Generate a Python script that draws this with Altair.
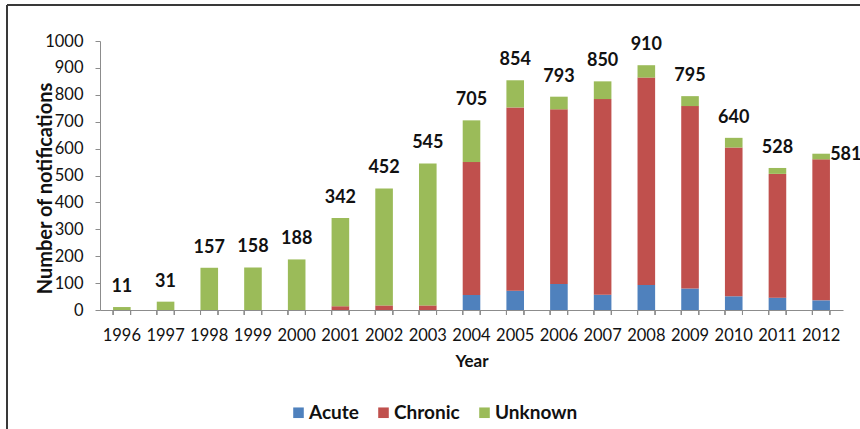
import altair as alt
import pandas as pd

# Notifications per year, split by infection status
years = [1996, 1997, 1998, 1999, 2000, 2001, 2002, 2003, 2004,
         2005, 2006, 2007, 2008, 2009, 2010, 2011, 2012]
acute = [0, 0, 0, 0, 0, 0, 0, 0, 56, 72, 97, 57, 93, 80, 51, 46, 36]
chronic = [0, 0, 0, 0, 0, 14, 17, 17, 494, 681, 649, 727, 771, 678, 553, 460, 524]
unknown = [11, 31, 157, 158, 188, 328, 435, 528, 155, 101, 47, 66, 46, 37, 36, 22, 21]

statuses = ["Acute", "Chronic", "Unknown"]
colors = ["#4F81BD", "#C0504D", "#9BBB59"]
y_ticks = list(range(0, 1001, 100))

rows = []
for i, yr in enumerate(years):
    for k, (name, vals) in enumerate(zip(statuses, [acute, chronic, unknown])):
        rows.append({"Year": str(yr), "Status": name, "Count": vals[i], "Order": k})
df = pd.DataFrame(rows)

FONT = "Lato"
W, H = 743, 269
year_order = [str(y) for y in years]
y_scale = alt.Scale(domain=[0, 1000], nice=False)

y_axis = alt.Axis(
    title="Number of notifications", values=y_ticks, tickCount=11,
    grid=False, format="d", labelOverlap=False, labelFlush=False,
    labelFont=FONT, labelFontSize=16.5, labelColor="#111",
    labelPadding=12, tickSize=5, tickColor="#8c8c8c",
    domainColor="#8c8c8c", domainWidth=1,
    titleFont=FONT, titleFontSize=20, titleFontWeight="bold",
    titleColor="#111", titleAngle=270, titleX=-55, titleY=147,
    titleAlign="center", titleBaseline="middle",
)

x_axis = alt.Axis(
    title="Year", ticks=False, labelAngle=0, labelFontSize=16.5,
    labelFont=FONT, labelColor="#111", labelBaseline="middle",
    labelPadding=25, domainColor="#8c8c8c", domainWidth=1,
    labelOverlap=False,
    titleFont=FONT, titleFontSize=17, titleFontWeight="bold",
    titleColor="#111", titleY=51, titleBaseline="middle",
)
x_scale = alt.Scale(paddingInner=0.6, paddingOuter=0.3)

bars = alt.Chart(df).mark_bar(size=17.6).encode(
    x=alt.X("Year:N", sort=year_order, scale=x_scale, axis=x_axis),
    y=alt.Y("sum(Count):Q", stack="zero", scale=y_scale, axis=y_axis),
    color=alt.Color(
        "Status:N",
        scale=alt.Scale(domain=statuses, range=colors),
        legend=alt.Legend(
            title=None, orient="none", direction="horizontal",
            legendX=189, legendY=362, symbolType="square", symbolSize=112,
            symbolStrokeWidth=0, labelFont=FONT, labelFontSize=19,
            labelFontWeight="bold", labelColor="#111", labelOffset=1,
            columnPadding=15, padding=0,
        ),
    ),
    order=alt.Order("Order:Q", sort="ascending"),
)

# Category separator ticks on the x axis
ticks_left = alt.Chart(df).mark_rule(color="#8c8c8c", strokeWidth=1).encode(
    x=alt.X("Year:N", sort=year_order, scale=x_scale, axis=x_axis, bandPosition=0),
    y=alt.value(H), y2=alt.value(H + 5),
)
ticks_right = alt.Chart(df).mark_rule(color="#8c8c8c", strokeWidth=1).encode(
    x=alt.X("Year:N", sort=year_order, scale=x_scale, axis=x_axis, bandPosition=1),
    y=alt.value(H), y2=alt.value(H + 5),
)

totals = alt.Chart(df).transform_aggregate(
    Total="sum(Count)", groupby=["Year"]
)

labels = totals.transform_filter(alt.datum.Year != "2012").mark_text(
    font=FONT, fontSize=18, fontWeight="bold", color="#111",
    baseline="middle", dy=-20,
).encode(
    x=alt.X("Year:N", sort=year_order, scale=x_scale, axis=x_axis),
    y=alt.Y("Total:Q", scale=y_scale, axis=y_axis),
    text=alt.Text("Total:Q"),
)

last_label = totals.transform_filter(alt.datum.Year == "2012").mark_text(
    font=FONT, fontSize=18, fontWeight="bold", color="#111",
    baseline="middle", align="left", dx=9, dy=1,
).encode(
    x=alt.X("Year:N", sort=year_order, scale=x_scale, axis=x_axis),
    y=alt.Y("Total:Q", scale=y_scale, axis=y_axis),
    text=alt.Text("Total:Q"),
)

# Outer frame lines (top and left)
frame_top = alt.Chart(df).mark_rule(color="#3a3a3a", strokeWidth=1.5).encode(
    x=alt.value(-93), x2=alt.value(800), y=alt.value(-36)
)
frame_left = alt.Chart(df).mark_rule(color="#3a3a3a", strokeWidth=1.5).encode(
    x=alt.value(-93), y=alt.value(-36), y2=alt.value(420)
)

chart = alt.layer(
    bars, ticks_left, ticks_right, labels, last_label, frame_top, frame_left
).properties(
    width=W, height=H,
    autosize=alt.AutoSizeParams(type="none"),
    padding={"left": 100, "top": 41, "right": 17, "bottom": 119},
    background="white",
).configure_view(stroke=None)

chart.save("out.html", embed_options={"renderer": "svg", "actions": False})
